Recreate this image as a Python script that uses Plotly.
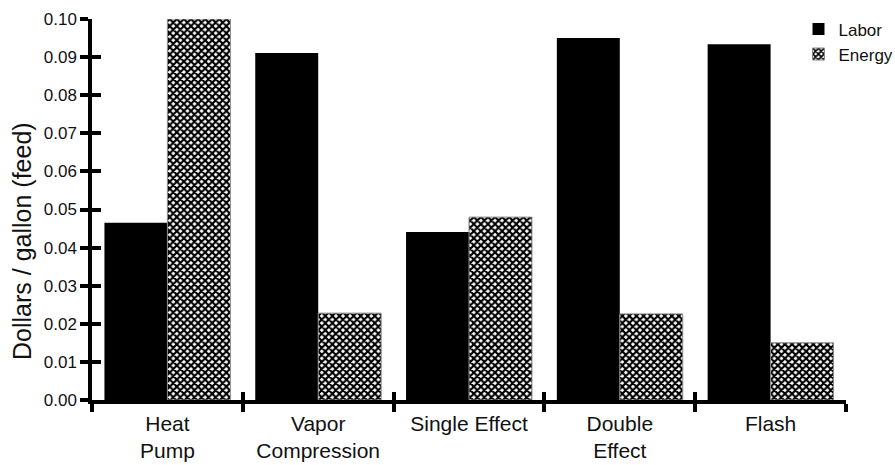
import plotly.graph_objects as go

# Cost per gallon of feed for each evaporator type
categories = ["Heat<br>Pump", "Vapor<br>Compression", "Single Effect", "Double<br>Effect", "Flash"]
labor = [0.0465, 0.0911, 0.0441, 0.0950, 0.0934]
energy = [0.1000, 0.0228, 0.0480, 0.0226, 0.0150]
y_ticks = [0.00, 0.01, 0.02, 0.03, 0.04, 0.05, 0.06, 0.07, 0.08, 0.09, 0.10]
y_title = "Dollars / gallon (feed)"

FONT = "Liberation Sans, Arial, sans-serif"
INK = "#111111"
AXW = 3.5

fig = go.Figure()
fig.add_trace(go.Bar(
    x=categories, y=labor, name="Labor",
    marker=dict(color="black", line=dict(width=0)),
))
fig.add_trace(go.Bar(
    x=categories, y=energy, name="Energy",
    marker=dict(
        color="white",
        line=dict(color="#8a8a8a", width=1),
        pattern=dict(shape="x", fgcolor="black", bgcolor="white",
                     size=5, solidity=0.65, fillmode="replace"),
    ),
))

# empty trace so the overlay axes (inner half of the crossing ticks) exist
fig.add_trace(go.Scatter(x=[], y=[], xaxis="x2", yaxis="y2",
                         showlegend=False, hoverinfo="skip"))

boundaries = [i - 0.5 for i in range(len(categories) + 1)]

fig.update_layout(
    width=895, height=465,
    margin=dict(l=92, r=49, t=19, b=65, autoexpand=False),
    paper_bgcolor="white", plot_bgcolor="white",
    barmode="group", bargap=0.165, bargroupgap=0,
    font=dict(family=FONT, color=INK, size=17),
    xaxis=dict(
        type="category", range=[-0.5, 4.5],
        showline=True, linecolor="black", linewidth=AXW,
        ticks="outside", tickson="boundaries", ticklen=8, tickwidth=AXW,
        tickcolor="black", showgrid=False, zeroline=False,
        ticklabelstandoff=2,
        tickfont=dict(size=21, family=FONT, color=INK),
    ),
    yaxis=dict(
        range=[0, 0.1], tickvals=y_ticks, tickformat=".2f",
        showline=True, linecolor="black", linewidth=AXW,
        ticks="outside", ticklen=8, tickwidth=AXW, tickcolor="black",
        showgrid=False, zeroline=False,
        tickfont=dict(size=17, family=FONT, color=INK),
    ),
    xaxis2=dict(
        overlaying="x", anchor="y", side="bottom", range=[-0.5, 4.5],
        tickvals=boundaries, ticks="inside", ticklen=8, tickwidth=AXW,
        tickcolor="black", showticklabels=False, showgrid=False,
        zeroline=False, showline=False,
    ),
    yaxis2=dict(
        overlaying="y", anchor="x", side="left", range=[0, 0.1],
        tickvals=y_ticks, ticks="inside", ticklen=9, tickwidth=AXW,
        tickcolor="black", showticklabels=False, showgrid=False,
        zeroline=False, showline=False,
    ),
    legend=dict(
        x=0.937, y=1.02, xanchor="left", yanchor="top",
        bgcolor="rgba(0,0,0,0)", borderwidth=0,
        font=dict(size=17, family=FONT, color=INK),
        itemwidth=30, tracegroupgap=0,
    ),
    annotations=[dict(
        text=y_title, textangle=-90, showarrow=False,
        xref="paper", yref="paper", x=-0.093, y=0.417,
        xanchor="center", yanchor="middle",
        font=dict(size=25, family=FONT, color=INK),
    )],
    showlegend=True,
)

fig.write_html("out.html")
